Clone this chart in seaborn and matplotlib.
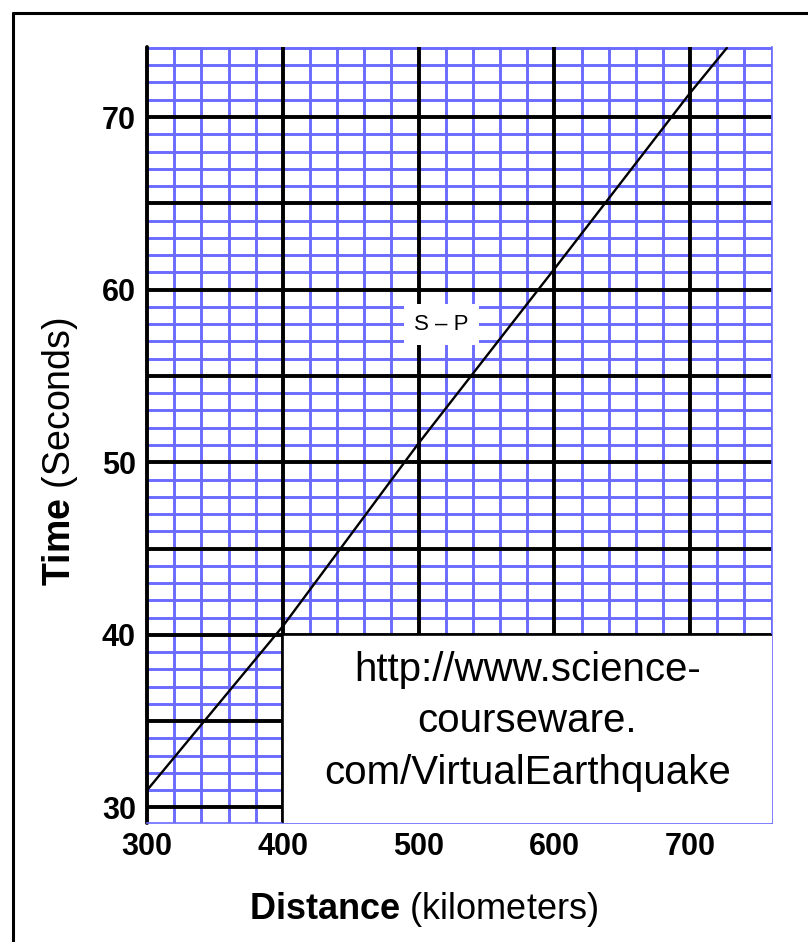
import numpy as np
import pandas as pd
import matplotlib.pyplot as plt
import matplotlib.patches as patches
from matplotlib.lines import Line2D
from matplotlib.ticker import FixedLocator
import seaborn as sns

# S-P travel time curve
distance_km = [300, 400, 500, 600, 700, 727]
sp_seconds = [31.0, 40.5, 51.1, 61.2, 71.4, 74.0]

x_ticks = [300, 400, 500, 600, 700]
y_ticks = [30, 35, 40, 45, 50, 55, 60, 65, 70]
y_tick_labels = ["30", "", "40", "", "50", "", "60", "", "70"]

url_lines = "http://www.science-\ncourseware.\ncom/VirtualEarthquake"
curve_label = "S \u2013 P"

df = pd.DataFrame({"distance": distance_km, "seconds": sp_seconds})

sns.set_style("white")
plt.rcParams["font.family"] = ["Liberation Sans", "DejaVu Sans"]
plt.rcParams["mathtext.fontset"] = "custom"
plt.rcParams["mathtext.rm"] = "Liberation Sans"
plt.rcParams["mathtext.bf"] = "Liberation Sans:bold"
plt.rcParams["text.color"] = "black"
plt.rcParams["axes.labelcolor"] = "black"
plt.rcParams["xtick.color"] = "black"
plt.rcParams["ytick.color"] = "black"

blue = "#6b6bff"

fig = plt.figure(figsize=(8.08, 9.42), dpi=100)
ax = fig.add_axes([0.182, 0.1263, 0.773, 0.8237])

sns.lineplot(data=df, x="distance", y="seconds", color="black", lw=1.7, ax=ax, zorder=5)

ax.set_xlim(300, 760)
ax.set_ylim(29.1, 74.05)

# graph paper grid: blue every 20 km / 1 s, black every 100 km / 5 s
x_minor = [v for v in range(300, 761, 20) if v % 100 != 0]
y_minor = [v for v in range(29, 75) if v % 5 != 0]
ax.xaxis.set_major_locator(FixedLocator(x_ticks))
ax.xaxis.set_minor_locator(FixedLocator(x_minor))
ax.yaxis.set_major_locator(FixedLocator(y_ticks))
ax.yaxis.set_minor_locator(FixedLocator(y_minor))
ax.set_yticklabels(y_tick_labels)
ax.grid(which="minor", color=blue, lw=2.1)
ax.grid(which="major", visible=False)
ax.set_axisbelow(True)

# black lines go over the whole blue mesh
for xv in x_ticks:
    ax.axvline(xv, color="black", lw=2.8, zorder=2, clip_on=(xv != 300))
for yv in y_ticks:
    ax.axhline(yv, color="black", lw=2.8, zorder=2)

for lab in ax.get_xticklabels() + ax.get_yticklabels():
    lab.set_fontweight("bold")
ax.tick_params(axis="x", which="major", length=2.5, width=2, color="black",
               labelsize=22, pad=4)
ax.tick_params(axis="x", which="minor", length=2, width=1.5, color=blue)
ax.tick_params(axis="y", which="both", length=0, labelsize=22, pad=8)

for side in ["top", "left"]:
    ax.spines[side].set_visible(False)
ax.spines["bottom"].set_color(blue)
ax.spines["bottom"].set_linewidth(1.2)
ax.spines["right"].set_color(blue)
ax.spines["right"].set_linewidth(1.2)

# white box with the url
box = patches.Rectangle((400, 29.1), 360, 10.9, facecolor="white",
                        edgecolor="none", zorder=3)
ax.add_patch(box)
ax.plot([400, 400, 760], [29.1, 40, 40], color="black", lw=1.2, zorder=4,
        solid_joinstyle="miter")
ax.text(580, 35.0, url_lines, ha="center", va="center", fontsize=29,
        linespacing=1.45, zorder=6)

ax.text(517, 58, curve_label, ha="center", va="center", fontsize=16, zorder=6,
        bbox=dict(boxstyle="square,pad=0.45", facecolor="white", edgecolor="none"))

ax.set_xlabel(r"$\mathbf{Distance}$ (kilometers)", fontsize=26)
ax.set_ylabel(r"$\mathbf{Time}$ (Seconds)", fontsize=27)
ax.xaxis.set_label_coords(0.443, -0.086)
ax.yaxis.set_label_coords(-0.107, 0.478)

# frame lines on the page
fig.add_artist(Line2D([0.0161, 0.0161], [0.0, 0.986], color="black", lw=2.2,
                      transform=fig.transFigure))
fig.add_artist(Line2D([0.0161, 1.0], [0.986, 0.986], color="black", lw=2.2,
                      transform=fig.transFigure))

plt.savefig("out.png", dpi=100)
plt.close()
